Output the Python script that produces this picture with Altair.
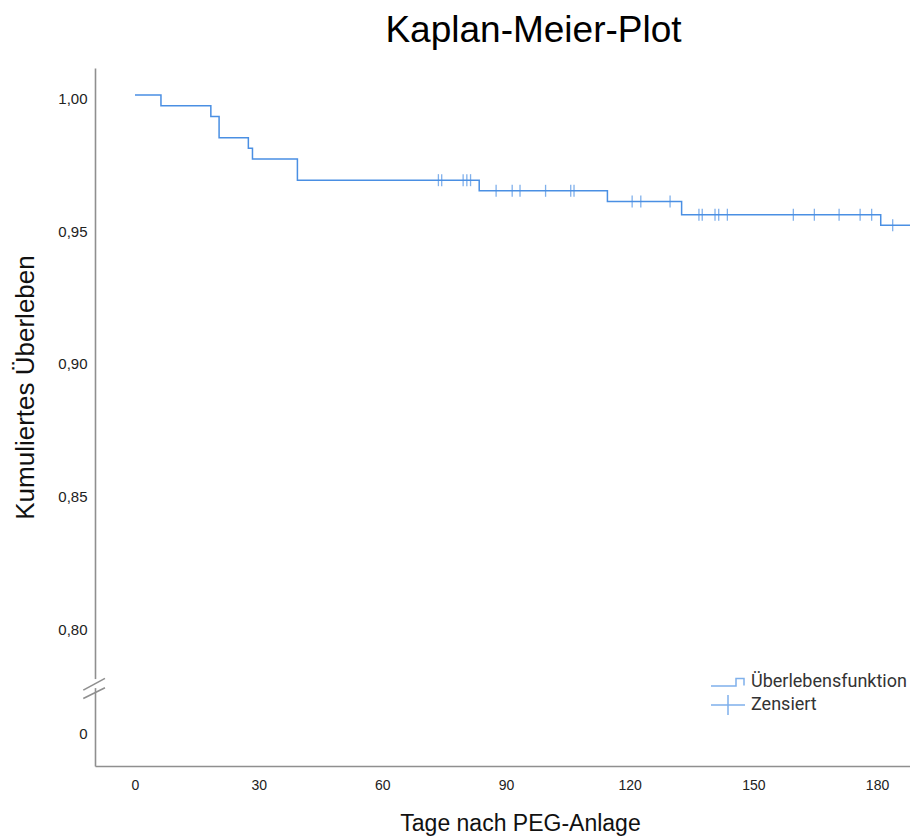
import altair as alt
import pandas as pd

# Kaplan-Meier step curve (day of event, survival after event)
step_days = [0, 6.3, 18.4, 20.4, 27.5, 28.5, 39.4, 83.5, 114.6, 132.6, 180.9, 195]
step_surv = [1.000, 0.996, 0.992, 0.984, 0.980, 0.976, 0.968, 0.964, 0.960, 0.955, 0.951, 0.951]

# censored observations
censor_days = [73.6, 74.4, 79.6, 80.5, 81.4,
               87.6, 91.5, 93.4, 99.6, 105.7, 106.5,
               120.6, 122.7, 129.8,
               136.8, 137.6, 140.7, 141.6, 143.7, 159.7, 164.8, 170.8, 175.9, 178.7,
               183.8]
censor_surv = [0.968, 0.968, 0.968, 0.968, 0.968,
               0.964, 0.964, 0.964, 0.964, 0.964, 0.964,
               0.960, 0.960, 0.960,
               0.955, 0.955, 0.955, 0.955, 0.955, 0.955, 0.955, 0.955, 0.955, 0.955,
               0.951]

x_ticks = [0, 30, 60, 90, 120, 150, 180]
y_ticks = [0.7611, 0.80, 0.85, 0.90, 0.95, 1.00]
legend_labels = ["Überlebensfunktion", "Zensiert"]

# axis break marks (in data units)
break_x = [-12.54, -12.54]
break_x2 = [-7.28, -7.28]
break_y = [0.77615, 0.77302]
break_y2 = [0.78055, 0.77701]
gap_x = [-9.70]
gap_y = [0.7769]
gap_y2 = [0.7803]

BLUE = "#4a8fe3"
AXIS = "#8f8f8f"
FONT = "Liberation Sans"

x_scale = alt.Scale(domain=[-9.70, 188.0], nice=False, zero=False)
y_scale = alt.Scale(domain=[0.7476, 1.0102], nice=False, zero=False)

x_axis = alt.Axis(values=x_ticks, grid=False, ticks=False, tickSize=0, labelPadding=12,
                  labelFontSize=14, labelFont=FONT, labelColor="#222",
                  domainColor=AXIS, domainWidth=1.6,
                  title="Tage nach PEG-Anlage", titleFont=FONT, titleFontSize=23,
                  titleFontWeight="normal", titleColor="#111",
                  titleX=425, titleY=64, titleBaseline="alphabetic")
y_axis = alt.Axis(values=y_ticks, grid=False, ticks=False, tickSize=0, labelPadding=8,
                  labelOffset=3, labelFontSize=15, labelFont=FONT, labelColor="#222",
                  labelExpr="datum.value < 0.79 ? '0' : replace(format(datum.value, '.2f'), '.', ',')",
                  domainColor=AXIS, domainWidth=1.6,
                  title="Kumuliertes Überleben", titleFont=FONT, titleFontSize=26,
                  titleFontWeight="normal", titleColor="#111",
                  titleX=-62, titleY=319, titleBaseline="alphabetic")

step_df = pd.DataFrame({"t": step_days, "s": step_surv})
cens_df = pd.DataFrame({"t": censor_days, "s": censor_surv})
brk_df = pd.DataFrame({"x": break_x, "x2": break_x2, "y": break_y, "y2": break_y2})
gap_df = pd.DataFrame({"x": gap_x, "y": gap_y, "y2": gap_y2})

line = alt.Chart(step_df).mark_line(interpolate="step-after", color=BLUE, strokeWidth=1.5,
                                    clip=True).encode(
    x=alt.X("t:Q", scale=x_scale, axis=x_axis),
    y=alt.Y("s:Q", scale=y_scale, axis=y_axis),
)

cens = alt.Chart(cens_df).mark_tick(orient="vertical", color=BLUE, size=12, thickness=1.3).encode(
    x=alt.X("t:Q", scale=x_scale),
    y=alt.Y("s:Q", scale=y_scale),
)

gap = alt.Chart(gap_df).mark_rule(color="white", strokeWidth=4).encode(
    x=alt.X("x:Q", scale=x_scale), y=alt.Y("y:Q", scale=y_scale), y2="y2:Q"
)

brk = alt.Chart(brk_df).mark_rule(color=AXIS, strokeWidth=1.6).encode(
    x=alt.X("x:Q", scale=x_scale), x2="x2:Q",
    y=alt.Y("y:Q", scale=y_scale), y2="y2:Q"
)

step_path = "M-1.7,0.4H0.8V-0.35H1.6V0.35"
cross_path = "M-1.7,0H1.7M0,-1V1"

leg = alt.Chart(pd.DataFrame({"k": legend_labels})).transform_filter("false").mark_point(
    filled=False, color=BLUE, strokeWidth=1.5).encode(
    shape=alt.Shape("k:N", scale=alt.Scale(domain=legend_labels, range=[step_path, cross_path]),
                    legend=alt.Legend(title=None, orient="none", legendX=622, legendY=603,
                                      symbolSize=400, symbolStrokeWidth=1.5,
                                      symbolStrokeColor=BLUE, symbolFillColor="transparent",
                                      labelFont="Roboto", labelFontSize=18, labelColor="#333",
                                      labelLimit=300, labelOffset=12, rowPadding=1, padding=0))
)

chart = alt.layer(line, cens, gap, brk, leg).properties(
    width=815, height=698,
    padding={"left": 87, "top": 60, "right": 0, "bottom": 70},
    autosize=alt.AutoSizeParams(type="none"),
    background="white",
    title=alt.TitleParams("Kaplan-Meier-Plot", font=FONT, fontSize=37, fontWeight="normal",
                          color="#000", anchor="middle", dx=31, offset=18),
).configure_view(stroke=None)

chart.save("out.html", embed_options={"renderer": "svg", "actions": False})
